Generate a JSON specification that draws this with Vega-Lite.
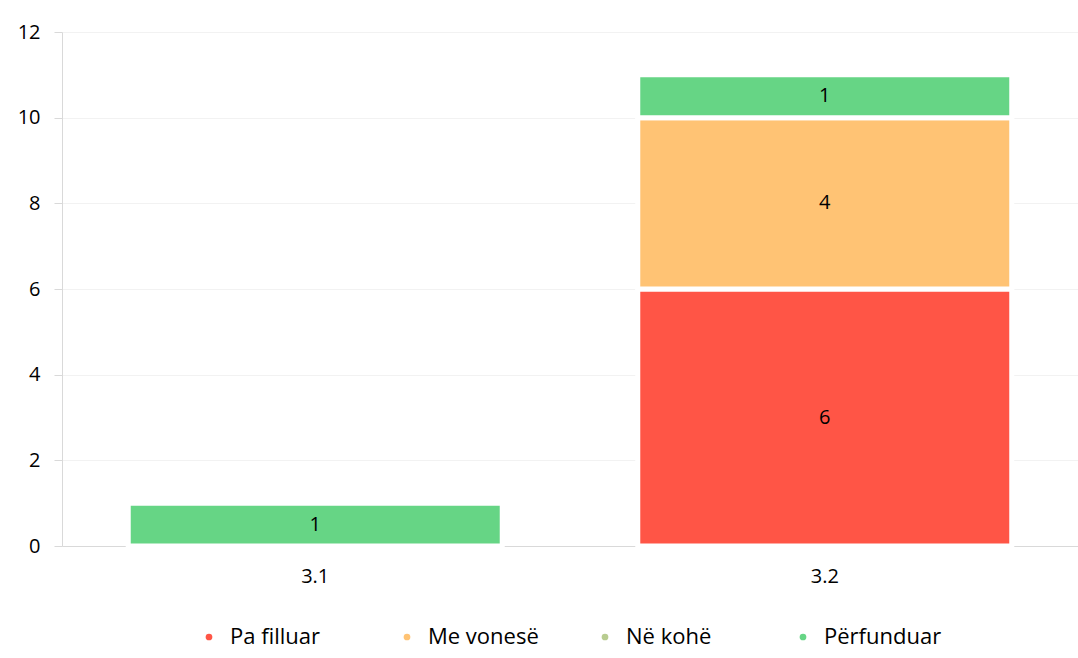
{
  "$schema": "https://vega.github.io/schema/vega-lite/v6.json",
  "width": 1078,
  "height": 658,
  "autosize": {"type": "fit", "contains": "padding"},
  "padding": {"left": 0, "top": 22, "right": 0, "bottom": 10},
  "background": "white",
  "config": {
    "view": {"stroke": null},
    "font": "Open Sans",
    "axis": {"labelFont": "Open Sans", "labelFontSize": 20, "labelColor": "#000000"},
    "legend": {"layout": {"bottom": {"anchor": "middle"}}}
  },
  "data": {
    "values": [
      {"cat": "3.1", "status": "Përfunduar", "ord": 4, "value": 1},
      {"cat": "3.2", "status": "Pa filluar", "ord": 1, "value": 6},
      {"cat": "3.2", "status": "Me vonesë", "ord": 2, "value": 4},
      {"cat": "3.2", "status": "Përfunduar", "ord": 4, "value": 1}
    ]
  },
  "transform": [
    {"stack": "value", "groupby": ["cat"], "sort": [{"field": "ord", "order": "ascending"}], "as": ["y0", "y1"]},
    {"calculate": "(datum.y0 + datum.y1) / 2", "as": "mid"}
  ],
  "encoding": {
    "x": {
      "field": "cat", "type": "nominal", "title": null,
      "scale": {"paddingInner": 0.266, "paddingOuter": 0.13},
      "axis": {"labelAngle": 0, "ticks": false, "domainColor": "#D9D9D9", "labelPadding": 20, "grid": false}
    }
  },
  "layer": [
    {
      "mark": {"type": "bar", "stroke": "white", "strokeWidth": 5},
      "encoding": {
        "y": {
          "field": "y0", "type": "quantitative", "title": null,
          "scale": {"domain": [0, 12]},
          "axis": {"values": [0, 2, 4, 6, 8, 10, 12], "gridColor": "#F2F2F2", "domainColor": "#D9D9D9", "tickColor": "#D9D9D9", "tickSize": 8, "labelPadding": 14}
        },
        "y2": {"field": "y1"},
        "color": {
          "field": "status", "type": "nominal", "title": null,
          "scale": {
            "domain": ["Pa filluar", "Me vonesë", "Në kohë", "Përfunduar"],
            "range": ["#FF5546", "#FFC374", "#B8CC90", "#66D585"]
          },
          "legend": {
            "orient": "bottom", "direction": "horizontal", "columns": 4,
            "symbolType": "circle", "symbolSize": 45, "symbolStrokeWidth": 0,
            "labelFontSize": 22, "labelFont": "Open Sans", "labelColor": "#000000",
            "columnPadding": 48, "gridAlign": "all", "labelOffset": 10, "offset": 40
          }
        }
      }
    },
    {
      "mark": {"type": "text", "fontSize": 20, "color": "#000000", "font": "Open Sans"},
      "encoding": {
        "y": {"field": "mid", "type": "quantitative"},
        "text": {"field": "value", "type": "quantitative"}
      }
    }
  ]
}
